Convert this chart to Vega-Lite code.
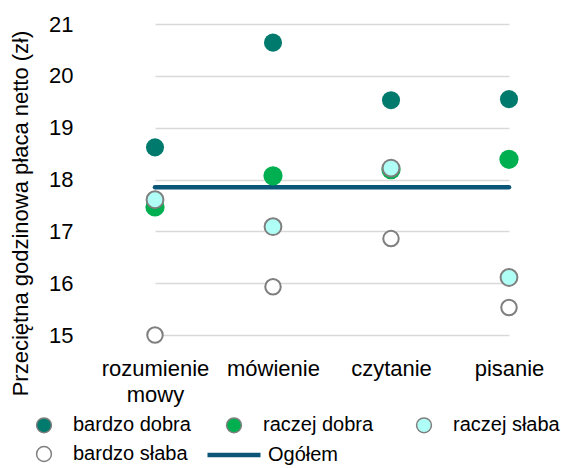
{
  "$schema": "https://vega.github.io/schema/vega-lite/v6.json",
  "autosize": "none",
  "width": 465,
  "height": 311,
  "padding": {"left": 96, "top": 24, "right": 0, "bottom": 133},
  "config": {
    "view": {"stroke": null},
    "font": "Liberation Sans",
    "axis": {"labelFont": "Liberation Sans", "titleFont": "Liberation Sans", "labelColor": "#000000", "titleColor": "#000000"},
    "legend": {"labelFont": "Liberation Sans", "labelColor": "#000000"}
  },
  "datasets": {
    "punkty": [
      {"umiejetnosc": "rozumienie mowy", "ocena": "bardzo dobra", "placa": 18.62},
      {"umiejetnosc": "mówienie", "ocena": "bardzo dobra", "placa": 20.64},
      {"umiejetnosc": "czytanie", "ocena": "bardzo dobra", "placa": 19.53},
      {"umiejetnosc": "pisanie", "ocena": "bardzo dobra", "placa": 19.55},
      {"umiejetnosc": "rozumienie mowy", "ocena": "raczej dobra", "placa": 17.47},
      {"umiejetnosc": "mówienie", "ocena": "raczej dobra", "placa": 18.07},
      {"umiejetnosc": "czytanie", "ocena": "raczej dobra", "placa": 18.19},
      {"umiejetnosc": "pisanie", "ocena": "raczej dobra", "placa": 18.39},
      {"umiejetnosc": "rozumienie mowy", "ocena": "raczej słaba", "placa": 17.61},
      {"umiejetnosc": "mówienie", "ocena": "raczej słaba", "placa": 17.09},
      {"umiejetnosc": "czytanie", "ocena": "raczej słaba", "placa": 18.22},
      {"umiejetnosc": "pisanie", "ocena": "raczej słaba", "placa": 16.11},
      {"umiejetnosc": "rozumienie mowy", "ocena": "bardzo słaba", "placa": 15.0},
      {"umiejetnosc": "mówienie", "ocena": "bardzo słaba", "placa": 15.93},
      {"umiejetnosc": "czytanie", "ocena": "bardzo słaba", "placa": 16.86},
      {"umiejetnosc": "pisanie", "ocena": "bardzo słaba", "placa": 15.53}
    ],
    "ogolem": [
      {"umiejetnosc": "rozumienie mowy", "seria": "Ogółem", "placa": 17.85},
      {"umiejetnosc": "mówienie", "seria": "Ogółem", "placa": 17.85},
      {"umiejetnosc": "czytanie", "seria": "Ogółem", "placa": 17.85},
      {"umiejetnosc": "pisanie", "seria": "Ogółem", "placa": 17.85}
    ]
  },
  "encoding": {
    "x": {
      "field": "umiejetnosc",
      "type": "nominal",
      "sort": ["rozumienie mowy", "mówienie", "czytanie", "pisanie"],
      "scale": {"type": "point", "padding": 0, "range": [59, 413]},
      "axis": {
        "title": null,
        "labelAngle": 0,
        "labelExpr": "split(datum.value, ' ')",
        "labelFontSize": 22,
        "labelPadding": 23,
        "labelLineHeight": 26,
        "ticks": false,
        "domain": false,
        "grid": false
      }
    },
    "y": {
      "field": "placa",
      "type": "quantitative",
      "scale": {"domain": [15, 21], "nice": false, "zero": false},
      "axis": {
        "title": "Przeciętna godzinowa płaca netto (zł)",
        "titleFontSize": 22,
        "titleFontWeight": "normal",
        "titleAngle": -90,
        "titleX": -76,
        "titleY": 189,
        "titleAlign": "center",
        "titleBaseline": "middle",
        "values": [15, 16, 17, 18, 19, 20, 21],
        "labelFontSize": 22,
        "labelPadding": 23,
        "ticks": false,
        "domain": false,
        "gridColor": "#d9d9d9",
        "gridWidth": 1.5
      }
    }
  },
  "layer": [
    {
      "data": {"name": "ogolem"},
      "mark": {"type": "line", "strokeWidth": 4.5, "strokeCap": "round"},
      "encoding": {
        "stroke": {
          "field": "seria",
          "type": "nominal",
          "scale": {"domain": ["Ogółem"], "range": ["#0b5579"]},
          "legend": {
            "title": null,
            "orient": "none",
            "legendX": 109,
            "legendY": 402,
            "symbolType": "stroke",
            "symbolSize": 2809,
            "symbolStrokeWidth": 4.5,
            "labelFontSize": 20,
            "labelOffset": 5,
            "padding": 0
          }
        }
      }
    },
    {
      "data": {"name": "punkty"},
      "mark": {"type": "point", "filled": true, "opacity": 1, "shape": "circle", "stroke": "#7f7f7f"},
      "encoding": {
        "fill": {
          "field": "ocena",
          "type": "nominal",
          "scale": {
            "domain": ["bardzo dobra", "raczej dobra", "raczej słaba", "bardzo słaba"],
            "range": ["#007a6c", "#00b050", "#b0fff6", "#ffffff"]
          },
          "legend": {
            "title": null,
            "orient": "none",
            "direction": "horizontal",
            "legendX": -62,
            "legendY": 391,
            "columns": 3,
            "gridAlign": "all",
            "columnPadding": 32,
            "rowPadding": 7,
            "symbolType": "circle",
            "symbolSize": 220,
            "symbolStrokeColor": "#7f7f7f",
            "symbolStrokeWidth": 1.5,
            "labelFontSize": 20,
            "labelOffset": 19,
            "padding": 0,
            "symbolOpacity": 1
          }
        },
        "size": {
          "field": "ocena",
          "type": "nominal",
          "scale": {
            "domain": ["raczej dobra", "bardzo dobra", "raczej słaba", "bardzo słaba"],
            "range": [370, 240, 170, 170]
          },
          "legend": null
        },
        "strokeWidth": {
          "condition": {"test": "datum.ocena === 'raczej słaba' || datum.ocena === 'bardzo słaba'", "value": 2},
          "value": 0
        }
      }
    }
  ]
}
